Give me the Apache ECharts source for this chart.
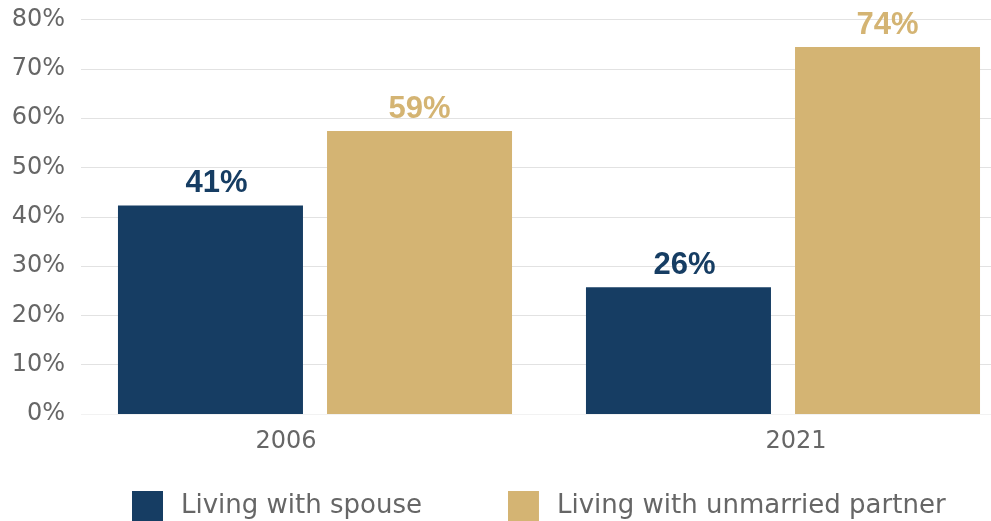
<!DOCTYPE html>
<html>
<head>
<meta charset="utf-8">
<script src="https://cdn.jsdelivr.net/npm/echarts@6/dist/echarts.min.js"></script>
<style>html,body{margin:0;padding:0;background:#fff;overflow:hidden;width:991px;height:521px;}#chart{width:1017px;height:521px;}</style>
</head>
<body>
<div id="chart"></div>
<script>
const categories = ['2006', '2021'];
const seriesNames = ['Living with spouse', 'Living with unmarried partner'];
const spouseValues = [42.3, 25.7];
const partnerValues = [57.4, 74.4];
const spouseLabels = ['41%', '26%'];
const partnerLabels = ['59%', '74%'];
const yTicks = [0, 10, 20, 30, 40, 50, 60, 70, 80];

const BLUE = '#163d63';
const GOLD = '#d4b473';
const FONT = 'DejaVu Sans';

const chart = echarts.init(document.getElementById('chart'), null, {renderer: 'canvas'});
chart.setOption({
  animation: false,
  backgroundColor: '#ffffff',
  grid: {left: 81, top: 19.5, right: 0, bottom: 107, containLabel: false},
  legend: {
    left: 132, top: 491, padding: 0,
    itemWidth: 31, itemHeight: 31, itemGap: 86,
    icon: 'rect',
    data: seriesNames,
    textStyle: {fontFamily: FONT, fontSize: 26, color: '#666666', padding: [0, 0, 0, 13]}
  },
  xAxis: {
    type: 'category',
    data: categories,
    axisLine: {show: false},
    axisTick: {show: false},
    axisLabel: {
      margin: 16,
      formatter: function (v, i) { return i === 0 ? '{a|' + v + '}' : '{b|' + v + '}'; },
      rich: {
        a: {fontFamily: FONT, fontSize: 24, color: '#666666', padding: [0, 58, 0, 0]},
        b: {fontFamily: FONT, fontSize: 24, color: '#666666', padding: [0, 0, 0, 26]}
      }
    }
  },
  yAxis: {
    type: 'value',
    min: yTicks[0], max: yTicks[yTicks.length - 1], interval: 10,
    axisLine: {show: false},
    axisTick: {show: false},
    axisLabel: {fontFamily: FONT, fontSize: 24, color: '#666666', margin: 16, formatter: '{value}%'},
    splitLine: {lineStyle: {color: ['#f2f2f2', '#e2e2e2', '#e2e2e2', '#e2e2e2', '#e2e2e2', '#e2e2e2', '#e2e2e2', '#e2e2e2', '#e2e2e2'], width: 1}}
  },
  series: [
    {
      name: seriesNames[0], type: 'bar', data: spouseValues,
      barWidth: 185, barGap: '13%',
      itemStyle: {color: BLUE},
      label: {
        show: true, position: 'top', distance: 6, offset: [6, 0],
        fontFamily: 'Liberation Sans', fontWeight: 'bold', fontSize: 31, color: BLUE,
        formatter: p => spouseLabels[p.dataIndex]
      }
    },
    {
      name: seriesNames[1], type: 'bar', data: partnerValues,
      barWidth: 185, barGap: '13%',
      itemStyle: {color: GOLD},
      label: {
        show: true, position: 'top', distance: 6,
        fontFamily: 'Liberation Sans', fontWeight: 'bold', fontSize: 31, color: GOLD,
        formatter: p => partnerLabels[p.dataIndex]
      }
    }
  ]
});
</script>
</body>
</html>
